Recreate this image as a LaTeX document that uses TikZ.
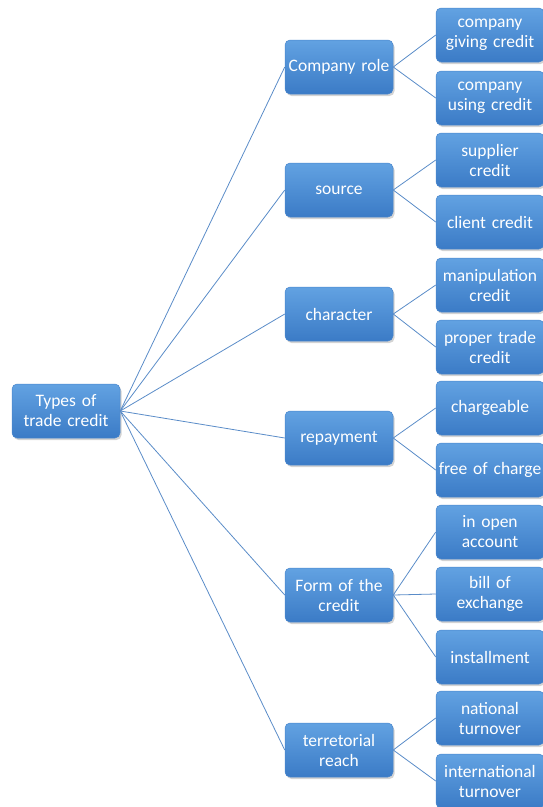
\documentclass[tikz,border=0pt]{standalone}
\usepackage{fontspec}
\setmainfont{Carlito}[WordSpace=0.7]
\usepackage{tikz}
\usetikzlibrary{shadows}

\definecolor{boxtop}{HTML}{62A2E2}
\definecolor{boxbottom}{HTML}{3B7BC6}
\definecolor{boxline}{HTML}{4A86CC}
\definecolor{linkblue}{HTML}{5A8CC8}

\begin{document}
\begin{tikzpicture}[x=1pt,y=-1pt,-,thick]
      \tikzstyle{box}=[rectangle,rounded corners=5pt,top color=boxtop,
        bottom color=boxbottom,draw=boxline,line width=0.5pt,text=white,
        text width=104pt,minimum height=54pt,inner sep=2pt,align=center,
        font=\fontsize{17.5}{20}\selectfont,
        drop shadow={shadow xshift=1.5pt,shadow yshift=-2pt,opacity=0.35}]
      \tikzstyle{link}=[draw=linkblue,line width=0.8pt]

      \useasboundingbox (0,0) rectangle (542,807);

      % root and second level
      \node[box] (root)  at (66,411)  {Types of\\trade credit};
      \node[box] (role)  at (339,67)  {Company role};
      \node[box] (src)   at (339,190) {source};
      \node[box] (char)  at (339,314) {character};
      \node[box] (repay) at (339,438) {repayment};
      \node[box] (form)  at (339,595) {Form of the\\credit};
      \node[box] (reach) at (339,750) {terretorial\\reach};

      % leaves
      \node[box] (giving)   at (490,35)  {company\\giving credit};
      \node[box] (using)    at (490,98)  {company\\using credit};
      \node[box] (supplier) at (490,160) {supplier\\credit};
      \node[box] (client)   at (490,222) {client credit};
      \node[box] (manip)    at (490,285) {manipulation\\credit};
      \node[box] (proper)   at (490,347) {proper trade\\credit};
      \node[box] (charge)   at (490,408) {chargeable};
      \node[box] (free)     at (490,470) {free of charge};
      \node[box] (open)     at (490,532) {in open\\account};
      \node[box] (bill)     at (490,594) {bill of\\exchange};
      \node[box] (install)  at (490,657) {installment};
      \node[box] (national) at (490,718) {national\\turnover};
      \node[box] (intl)     at (490,781) {international\\turnover};

      \path[link] (root.east) edge (role.west)
                              edge (src.west)
                              edge (char.west)
                              edge (repay.west)
                              edge (form.west)
                              edge (reach.west)
            (role.east)  edge (giving.west)
                         edge (using.west)
            (src.east)   edge (supplier.west)
                         edge (client.west)
            (char.east)  edge (manip.west)
                         edge (proper.west)
            (repay.east) edge (charge.west)
                         edge (free.west)
            (form.east)  edge (open.west)
                         edge (bill.west)
                         edge (install.west)
            (reach.east) edge (national.west)
                         edge (intl.west);

    \end{tikzpicture}
\end{document}
